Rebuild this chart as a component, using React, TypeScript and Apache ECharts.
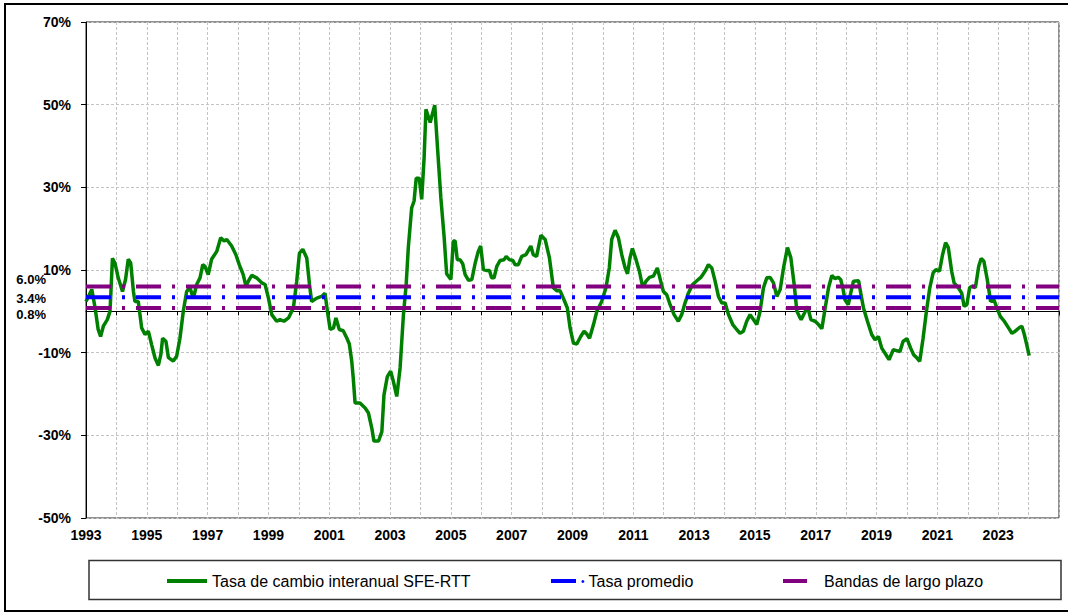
import React, { useEffect, useRef } from 'react';
import * as echarts from 'echarts';

const dates = [
  1993.00, 1993.19, 1993.30, 1993.40, 1993.48, 1993.57, 1993.70, 1993.79, 1993.87, 1993.95,
  1994.06, 1994.20, 1994.30, 1994.39, 1994.47, 1994.56, 1994.61, 1994.72, 1994.83, 1994.94,
  1995.05, 1995.16, 1995.27, 1995.38, 1995.46, 1995.52, 1995.63, 1995.71, 1995.87, 1995.98,
  1996.09, 1996.20, 1996.31, 1996.42, 1996.53, 1996.64, 1996.75, 1996.84, 1996.91, 1997.02,
  1997.13, 1997.30, 1997.43, 1997.54, 1997.63, 1997.79, 1997.93, 1998.04, 1998.17, 1998.26,
  1998.34, 1998.45, 1998.61, 1998.78, 1998.89, 1999.00, 1999.11, 1999.27, 1999.38, 1999.51,
  1999.66, 1999.82, 1999.93, 2000.02, 2000.13, 2000.26, 2000.35, 2000.42, 2000.59, 2000.75,
  2000.86, 2000.94, 2001.03, 2001.14, 2001.22, 2001.33, 2001.46, 2001.58, 2001.66, 2001.74,
  2001.79, 2001.85, 2002.01, 2002.18, 2002.29, 2002.40, 2002.47, 2002.62, 2002.73, 2002.80,
  2002.91, 2003.02, 2003.11, 2003.22, 2003.33, 2003.44, 2003.53, 2003.60, 2003.71, 2003.79,
  2003.86, 2003.96, 2004.04, 2004.12, 2004.18, 2004.32, 2004.39, 2004.47, 2004.56, 2004.67,
  2004.78, 2004.86, 2005.00, 2005.08, 2005.14, 2005.21, 2005.30, 2005.39, 2005.47, 2005.58,
  2005.69, 2005.80, 2005.90, 2005.98, 2006.07, 2006.16, 2006.27, 2006.34, 2006.42, 2006.51,
  2006.62, 2006.75, 2006.82, 2006.92, 2007.04, 2007.11, 2007.22, 2007.33, 2007.47, 2007.63,
  2007.71, 2007.82, 2007.96, 2008.10, 2008.24, 2008.37, 2008.48, 2008.59, 2008.72, 2008.83,
  2008.92, 2009.03, 2009.14, 2009.27, 2009.38, 2009.47, 2009.56, 2009.69, 2009.80, 2009.96,
  2010.10, 2010.21, 2010.29, 2010.40, 2010.51, 2010.62, 2010.73, 2010.81, 2010.89, 2010.97,
  2011.09, 2011.20, 2011.31, 2011.42, 2011.53, 2011.66, 2011.79, 2011.90, 2011.99, 2012.10,
  2012.21, 2012.34, 2012.48, 2012.59, 2012.70, 2012.81, 2012.95, 2013.09, 2013.22, 2013.36,
  2013.47, 2013.58, 2013.69, 2013.80, 2013.91, 2014.02, 2014.13, 2014.27, 2014.40, 2014.51,
  2014.62, 2014.73, 2014.84, 2014.95, 2015.06, 2015.17, 2015.28, 2015.39, 2015.50, 2015.61,
  2015.72, 2015.83, 2015.94, 2016.07, 2016.18, 2016.29, 2016.38, 2016.46, 2016.52, 2016.63,
  2016.73, 2016.84, 2016.98, 2017.09, 2017.20, 2017.31, 2017.42, 2017.53, 2017.63, 2017.74,
  2017.82, 2017.89, 2017.96, 2018.07, 2018.15, 2018.24, 2018.41, 2018.48, 2018.57, 2018.70,
  2018.84, 2018.95, 2019.06, 2019.17, 2019.31, 2019.41, 2019.55, 2019.66, 2019.77, 2019.87,
  2020.00, 2020.12, 2020.22, 2020.33, 2020.42, 2020.53, 2020.64, 2020.75, 2020.86, 2020.95,
  2021.07, 2021.17, 2021.27, 2021.36, 2021.47, 2021.55, 2021.69, 2021.80, 2021.88, 2021.97,
  2022.06, 2022.14, 2022.25, 2022.36, 2022.44, 2022.53, 2022.64, 2022.75, 2022.86, 2022.97,
  2023.07, 2023.20, 2023.34, 2023.45, 2023.56, 2023.70, 2023.78, 2023.86, 2023.94, 2024.02,
];

const rates = [
  2.4, 5.3, 0.8, -4.4, -6.1, -3.6, -2.0, 0.0, 12.8, 11.7,
  8.1, 4.8, 7.7, 12.6, 11.7, 4.8, 2.4, 2.4, -4.0, -5.6,
  -4.8, -8.1, -11.3, -13.1, -10.5, -6.5, -7.3, -11.2, -12.0, -10.9,
  -6.5, 0.0, 4.8, 5.7, 3.1, 6.5, 8.1, 11.3, 10.9, 8.9,
  12.6, 14.5, 17.8, 17.0, 17.4, 15.8, 13.7, 11.3, 8.9, 6.1,
  7.3, 8.7, 8.1, 6.9, 6.5, 3.2, -0.8, -2.4, -2.0, -2.4,
  -1.6, 0.8, 7.3, 14.1, 15.0, 12.9, 6.5, 2.4, 3.2, 3.6,
  4.4, 0.0, -4.4, -4.0, -1.6, -4.4, -4.7, -6.5, -7.9, -12.1,
  -16.2, -22.2, -22.2, -23.4, -24.6, -28.3, -31.4, -31.4, -29.1, -20.2,
  -15.8, -14.5, -17.0, -20.6, -13.7, -0.8, 6.5, 15.4, 25.0, 26.7,
  32.2, 32.2, 27.1, 37.2, 48.9, 45.7, 47.7, 49.9, 39.6, 27.5,
  17.8, 9.1, 7.7, 17.0, 17.0, 12.5, 12.5, 11.5, 8.9, 7.5,
  7.7, 11.7, 14.5, 15.8, 10.1, 9.9, 9.9, 8.1, 8.1, 10.9,
  12.3, 12.5, 13.3, 12.5, 12.3, 11.3, 11.3, 13.3, 13.7, 15.8,
  13.7, 13.3, 18.4, 17.4, 13.0, 5.7, 5.0, 5.0, 2.8, 0.8,
  -4.0, -7.7, -7.9, -6.1, -4.8, -5.5, -6.5, -3.2, 0.0, 2.4,
  5.7, 10.5, 17.4, 19.6, 17.8, 13.7, 10.5, 9.1, 12.9, 15.2,
  12.5, 9.7, 5.8, 7.3, 8.2, 8.5, 10.5, 7.3, 4.8, 4.0,
  1.6, -0.8, -2.4, -0.8, 2.0, 4.4, 6.5, 7.4, 8.2, 9.7,
  11.3, 10.5, 7.3, 3.6, 2.0, 2.0, -0.8, -3.2, -4.4, -5.3,
  -4.8, -2.4, -0.8, -2.0, -3.2, 0.0, 5.7, 8.1, 8.2, 6.9,
  3.6, 5.3, 10.5, 15.4, 13.0, 6.5, 0.0, -1.2, -2.0, -0.4,
  1.2, -2.0, -2.4, -3.2, -4.2, 0.8, 5.7, 8.7, 7.9, 8.2,
  7.7, 5.7, 2.8, 1.6, 4.4, 7.3, 7.4, 4.4, 0.8, -2.4,
  -5.6, -6.9, -6.1, -8.9, -10.5, -11.7, -9.3, -9.5, -9.7, -7.3,
  -6.6, -8.9, -10.5, -11.3, -12.1, -6.5, 0.0, 5.7, 9.3, 10.1,
  9.7, 13.7, 16.6, 15.4, 9.7, 6.9, 5.7, 4.4, 1.2, 1.6,
  5.7, 6.1, 5.7, 10.9, 12.8, 12.1, 7.7, 2.4, 2.8, 0.6,
  -1.2, -2.4, -4.0, -5.3, -4.8, -3.9, -3.6, -5.6, -8.1, -10.7,
];

const seriesNames = ['Tasa de cambio interanual SFE-RTT', 'Tasa promedio', 'Bandas de largo plazo'];
const averageRate = 3.4;
const upperBand = 6.0;
const lowerBand = 0.8;
const sideLabels = ['6.0%', '3.4%', '0.8%'];
const sideLabelLevels = [6.0, 3.4, 0.8];
const xStart = 1993;
const xEnd = 2025;
const lastLabelYear = 2023;
const yMin = -50;
const yMax = 70;
const yStep = 20;

export default function App() {
  const ref = useRef<HTMLDivElement>(null);

  useEffect(() => {
    const chart = echarts.init(ref.current as HTMLDivElement, null, { renderer: 'svg' });
    const font = "'Liberation Sans', Arial, sans-serif";
    const dashDot = [25, 11, 3, 11];
    const gridDash = { color: '#c4c4c4', type: [3, 2] as any, width: 1 };

    const green = dates.map((d, i) => [d, rates[i]]);

    chart.setOption({
      animation: false,
      backgroundColor: '#ffffff',
      grid: { left: 86, top: 22, right: 9, bottom: 95, show: true, borderColor: '#222', borderWidth: 1 },
      xAxis: [
        {
          type: 'value', min: xStart, max: xEnd, interval: 1, position: 'bottom',
          axisLine: { show: false, onZero: false }, axisTick: { show: false },
          splitLine: { show: true, lineStyle: gridDash },
          axisLabel: {
            formatter: (v: number) => (v <= lastLabelYear && (v - xStart) % 2 === 0 ? String(v) : ''),
            fontFamily: font, fontWeight: 'bold', fontSize: 14, color: '#000', margin: 10,
            showMinLabel: true, showMaxLabel: true,
          },
        },
        {
          type: 'value', min: xStart, max: xEnd, interval: 1, position: 'top',
          axisLine: { show: true, onZero: true, lineStyle: { color: '#000', width: 1 } },
          axisTick: { show: true, inside: true, length: 4, lineStyle: { color: '#000' } },
          axisLabel: { show: false }, splitLine: { show: false },
        },
      ],
      yAxis: {
        type: 'value', min: yMin, max: yMax, interval: yStep,
        axisLine: { show: true, onZero: false, lineStyle: { color: '#000', width: 1 } },
        axisTick: { show: true, length: 5, lineStyle: { color: '#000' } },
        splitLine: { show: true, lineStyle: gridDash },
        axisLabel: { formatter: '{value}%', fontFamily: font, fontWeight: 'bold', fontSize: 14, color: '#000', margin: 15 },
      },
      legend: [
        {
          data: [seriesNames[0]], left: 167, top: 573, padding: 0, icon: 'rect', itemWidth: 40, itemHeight: 4,
          selectedMode: false, textStyle: { fontFamily: font, fontSize: 16, color: '#000' },
        },
        {
          data: [seriesNames[1]], left: 551, top: 573, padding: 0, icon: 'rect', itemWidth: 25, itemHeight: 4,
          selectedMode: false,
          formatter: (name: string) => '{d|•}{s|}' + name,
          textStyle: {
            fontFamily: font, fontSize: 16, color: '#000',
            rich: { d: { color: '#0000ff', fontSize: 10 }, s: { width: 4 } },
          },
        },
        {
          data: [seriesNames[2]], left: 783, top: 573, padding: 0, icon: 'rect', itemWidth: 24, itemHeight: 4,
          selectedMode: false,
          formatter: (name: string) => '{s|}' + name,
          textStyle: { fontFamily: font, fontSize: 16, color: '#000', rich: { s: { width: 12 } } },
        },
      ],
      series: [
        {
          name: seriesNames[0], type: 'line', xAxisIndex: 0, data: green, showSymbol: false, symbol: 'none',
          lineStyle: { color: '#008000', width: 3.5 }, itemStyle: { color: '#008000' }, z: 2,
        },
        {
          name: seriesNames[1], type: 'line', xAxisIndex: 0, data: [[xStart, averageRate], [xEnd, averageRate]],
          showSymbol: false, symbol: 'none',
          lineStyle: { color: '#0000ff', width: 4, type: dashDot }, itemStyle: { color: '#0000ff' }, z: 3,
        },
        {
          name: seriesNames[2], type: 'line', xAxisIndex: 0, data: [[xStart, upperBand], [xEnd, upperBand]],
          showSymbol: false, symbol: 'none',
          lineStyle: { color: '#800080', width: 4, type: dashDot }, itemStyle: { color: '#800080' }, z: 3,
        },
        {
          name: seriesNames[2], type: 'line', xAxisIndex: 0, data: [[xStart, lowerBand], [xEnd, lowerBand]],
          showSymbol: false, symbol: 'none',
          lineStyle: { color: '#800080', width: 4, type: dashDot }, itemStyle: { color: '#800080' }, z: 3,
        },
      ],
    });

    const labelOffsets = [-7, 1, 6];
    const axisX = chart.convertToPixel({ xAxisIndex: 0 }, xStart) as number;
    const sideTexts = sideLabelLevels.map((v, i) => {
      const y = chart.convertToPixel({ yAxisIndex: 0 }, v) as number;
      return {
        type: 'text', x: axisX - 40, y: y + labelOffsets[i], silent: true,
        style: { text: sideLabels[i], align: 'right', verticalAlign: 'middle', font: `bold 13px ${font}`, fill: '#000' },
      };
    });

    chart.setOption({
      graphic: [
        { type: 'rect', silent: true, shape: { x: 5, y: 4, width: 1070, height: 607 }, style: { fill: 'none', stroke: '#000', lineWidth: 2 } },
        { type: 'rect', silent: true, shape: { x: 89, y: 560.5, width: 972, height: 39 }, style: { fill: 'none', stroke: '#333', lineWidth: 1.5 } },
        ...sideTexts,
      ],
    });

    return () => chart.dispose();
  }, []);

  return <div ref={ref} style={{ position: 'absolute', left: 0, top: 0, width: 1068, height: 613 }} />;
}
